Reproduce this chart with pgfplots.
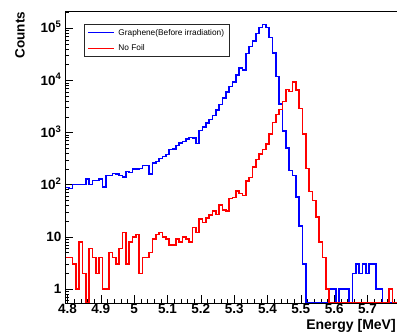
\documentclass[border=0pt]{standalone}
\usepackage{fontspec}
\setmainfont{Liberation Sans}
\usepackage{pgfplots}
\pgfplotsset{compat=1.18}
\usepackage{pgfplotstable}

\pgfplotstableread{
x b r
4.795 88 4
4.805 85 4
4.815 102 3
4.825 102 1
4.835 102 8
4.845 102 2
4.855 130 0.539
4.865 100 6
4.875 121 4
4.885 121 2
4.895 128 4
4.905 90 1
4.915 150 1
4.925 150 5
4.935 165 4
4.945 160 3
4.955 150 6
4.965 140 12
4.975 180 3
4.985 170 8
4.995 200 10
5.005 200 11
5.015 205 2
5.025 235 4
5.035 235 4
5.045 160 5
5.055 258 9
5.065 280 11
5.075 320 12
5.085 350 10
5.095 377 9
5.105 470 7
5.115 480 7
5.125 560 9
5.135 635 8
5.145 680 10
5.155 760 9
5.165 810 8
5.175 790 15
5.185 615 12
5.195 1100 22
5.205 1290 19
5.215 1540 23
5.225 1780 26
5.235 2130 31
5.245 2680 27
5.255 3450 41
5.265 4650 33
5.275 6000 31
5.285 7600 54
5.295 9400 57
5.305 12600 75
5.315 17500 68
5.325 16000 62
5.335 33000 118
5.345 45000 137
5.355 57000 220
5.365 80000 305
5.375 104000 390
5.385 118000 470
5.395 104000 600
5.405 67000 930
5.415 33500 1560
5.425 12000 2220
5.435 3500 2800
5.445 1070 3950
5.455 505 6700
5.465 186 6200
5.475 150 9300
5.485 58 6600
5.495 16 2900
5.505 3 940
5.515 0.539 205
5.525 0.539 74
5.535 0.539 50
5.545 0.539 24
5.555 0.539 8
5.565 0.539 4
5.575 0.539 1
5.585 1 0.539
5.595 1 0.539
5.605 0.539 0.539
5.615 1 0.539
5.625 1 0.539
5.635 1 0.539
5.645 0.539 0.539
5.655 2 0.539
5.665 3 0.539
5.675 2 0.539
5.685 3 0.539
5.695 2 0.539
5.705 3 0.539
5.715 3 0.539
5.725 1 0.539
5.735 1 0.539
5.745 0.539 0.539
5.755 0.539 0.539
5.765 0.539 1
5.775 0.539 0.539
5.785 0.539 0.539
5.795 0.539 0.539
}\data

\definecolor{rootblue}{RGB}{0,0,255}
\definecolor{rootred}{RGB}{255,0,0}

\begin{document}
\begin{tikzpicture}[x=1pt,y=1pt]
\begin{axis}[
  at={(65pt,29pt)}, anchor=south west,
  scale only axis, width=333.3pt, height=291.3pt,
  xmin=4.7925, xmax=5.7925,
  ymode=log, ymin=0.539, ymax=2.08e5,
  axis line style={black, line width=0.8pt},
  tick style={black, line width=0.6pt},
  tick align=inside, tick pos=left,
  major tick length=8pt, minor tick length=4.5pt,
  xtick={4.8,4.9,5,5.1,5.2,5.3,5.4,5.5,5.6,5.7},
  xticklabels={4.8,4.9,5,5.1,5.2,5.3,5.4,5.5,5.6,5.7},
  minor xtick={4.8,4.82,...,5.78},
  ytick={1,10,100,1000,10000,100000},
  yticklabels={1,10,10\textsuperscript{2},10\textsuperscript{3},10\textsuperscript{4},10\textsuperscript{5}},
  minor ytick={0.6,0.7,0.8,0.9,2,3,4,5,6,7,8,9,20,30,40,50,60,70,80,90,200,300,400,500,600,700,800,900,2000,3000,4000,5000,6000,7000,8000,9000,20000,30000,40000,50000,60000,70000,80000,90000,200000},
  ticklabel style={font=\fontsize{13.5}{14}\selectfont\bfseries},
  xticklabel style={inner ysep=1pt},
  yticklabel style={anchor=base east, yshift=-4.7pt},
  xlabel={Energy [MeV]},
  every axis x label/.style={at={(rel axis cs:0.993,-0.0566)}, anchor=north east, inner sep=0pt, font=\fontsize{14}{16}\selectfont\bfseries},
  ylabel={Counts},
  every axis y label/.style={at={(rel axis cs:-0.12,1)}, rotate=90, anchor=south east, inner sep=0pt, font=\fontsize{13.5}{16}\selectfont\bfseries},
  legend style={at={(rel axis cs:0.057,0.958)}, anchor=north west, draw=black!85, line width=0.9pt, fill=white,
    font=\fontsize{8.3}{10}\selectfont, inner xsep=3.3pt, inner ysep=3.3pt,
    nodes={inner xsep=2pt, inner ysep=1.5pt}, row sep=4.8pt, column sep=1.7pt},
  legend cell align=left,
  legend image code/.code={\draw[#1, line width=1pt] (0pt,0pt) -- (26pt,0pt);},
]
\addplot[draw=rootblue, line width=1.5pt, line join=miter, const plot] table[x=x, y=b]{\data};
\addlegendentry{Graphene(Before irradiation)}
\addplot[draw=rootred, line width=1.5pt, line join=miter, const plot] table[x=x, y=r]{\data};
\addlegendentry{No Foil}
\end{axis}
\pgfresetboundingbox
\useasboundingbox (0,0) rectangle (397,332);
\end{tikzpicture}
\end{document}
